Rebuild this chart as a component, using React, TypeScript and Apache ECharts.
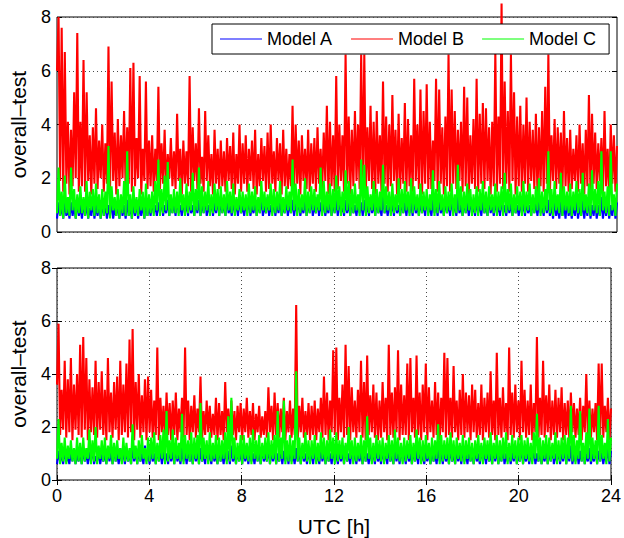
import React, { useEffect, useRef } from "react";
import * as echarts from "echarts";

// Values are stored in tenths, one sample every 4 minutes from 0 to 24 h UTC
// (each row holds one hour = 15 samples).

const upperModelA = [
  5,11,6,10,5,12,6,9,5,11,6,10,5,12,6,
  10,5,12,6,11,5,9,6,12,5,10,6,11,5,12,
  6,11,5,10,6,12,5,9,6,11,5,12,6,10,5,
  12,6,10,5,11,6,12,5,10,6,11,5,12,6,10,
  6,12,7,10,6,11,7,13,6,10,7,12,6,11,7,
  11,6,13,7,10,6,12,7,11,6,13,7,10,6,12,
  7,12,6,11,7,13,6,10,7,12,6,11,7,13,6,
  12,7,11,6,13,7,10,6,12,7,11,6,13,7,10,
  6,11,7,13,6,10,7,12,6,11,7,13,6,10,7,
  13,6,10,7,12,6,11,7,13,6,10,7,12,6,11,
  7,12,6,11,7,13,6,10,7,12,6,11,7,13,6,
  10,7,13,6,11,7,12,6,10,7,13,6,11,7,12,
  6,13,7,10,6,12,7,11,6,13,7,10,6,12,7,
  11,6,12,7,10,6,13,7,11,6,12,7,10,6,13,
  7,10,6,12,7,11,6,13,7,10,6,12,7,11,6,
  12,7,11,6,13,7,10,6,12,7,11,6,13,7,10,
  6,12,7,11,6,13,7,10,6,12,7,11,6,13,7,
  11,6,13,7,10,6,12,7,11,6,13,7,10,6,12,
  7,11,6,12,7,10,6,13,7,11,6,12,7,10,6,
  13,7,10,6,12,7,11,6,13,7,10,6,12,7,11,
  6,12,7,10,6,13,7,11,6,12,7,10,6,13,7,
  12,6,11,5,13,6,10,5,12,6,11,5,13,6,10,
  5,11,6,13,5,10,6,12,5,11,6,13,5,10,6,
  12,5,10,6,13,5,11,6,12,5,10,6,13,5,11,
];

const upperModelB = [
  60,80,19,76,15,67,18,41,14,38,17,52,20,74,15,
  41,17,64,15,52,19,36,14,39,18,46,16,34,20,40,
  15,33,18,69,16,56,19,37,14,42,17,36,20,45,16,
  39,18,61,15,63,17,35,20,58,14,31,19,56,16,34,
  17,36,15,31,19,54,16,33,18,38,15,29,20,35,17,
  30,16,44,19,31,14,34,18,30,17,58,15,39,19,33,
  16,46,18,28,15,45,19,36,17,29,14,38,18,31,16,
  34,17,30,15,35,19,32,16,37,14,29,18,40,15,33,
  18,36,15,31,19,34,16,38,14,29,17,35,19,32,15,
  37,16,40,18,30,15,35,19,33,14,38,17,31,16,29,
  17,47,15,40,18,34,14,36,19,31,16,38,15,33,18,
  35,15,39,18,31,16,37,19,47,14,41,17,36,15,58,
  16,40,19,36,15,66,18,43,14,38,17,45,19,40,16,
  66,17,66,15,39,19,47,16,41,14,45,18,36,15,56,
  18,43,15,40,17,51,19,38,14,44,16,35,18,48,15,
  42,17,36,15,57,19,40,16,53,14,45,18,55,16,41,
  16,34,19,57,15,53,18,39,14,43,17,66,15,53,18,
  45,16,38,19,41,15,54,17,50,14,36,18,42,16,57,
  15,44,18,48,16,46,19,39,14,41,17,67,15,43,18,
  85,16,56,18,45,15,66,19,52,14,43,17,47,15,40,
  18,50,15,41,19,38,16,44,14,39,17,45,15,54,18,
  66,15,36,19,42,16,39,18,37,14,45,17,35,15,38,
  16,31,19,36,15,40,18,33,14,38,17,51,15,44,18,
  37,16,33,19,35,15,45,17,31,14,40,18,36,15,32,
];

const upperModelC = [
  7,24,6,15,5,21,7,13,6,24,8,16,5,14,7,
  17,7,13,6,19,5,15,8,16,6,18,7,14,5,16,
  6,15,7,32,5,17,8,13,6,16,5,14,7,19,6,
  30,6,14,5,17,7,13,6,16,8,15,5,18,6,14,
  7,15,6,19,8,27,6,16,7,21,8,26,6,14,7,
  16,7,15,6,20,8,14,6,18,7,15,8,22,6,16,
  8,24,6,17,7,15,8,19,6,14,7,18,8,16,6,
  17,7,14,6,19,8,15,7,18,6,13,8,16,7,15,
  8,14,6,18,7,15,8,17,6,13,7,19,8,15,7,
  14,8,18,6,16,7,15,8,19,6,13,7,17,8,15,
  7,27,8,18,6,16,7,14,8,20,6,15,7,17,8,
  16,7,14,8,24,6,19,7,15,8,18,6,16,7,21,
  8,17,6,15,7,23,8,19,6,16,7,18,8,14,6,
  27,8,25,6,17,7,14,8,19,6,16,7,15,8,25,
  7,17,8,15,6,18,7,14,8,20,6,16,7,19,8,
  15,6,20,7,17,8,14,6,18,7,15,8,16,6,14,
  8,23,6,16,7,19,8,14,6,17,7,15,8,18,6,
  14,7,25,8,17,6,15,7,18,8,16,6,14,7,17,
  6,16,8,19,7,15,6,17,8,14,7,18,6,15,8,
  17,6,22,7,16,8,18,6,14,7,17,8,15,6,19,
  7,15,8,18,6,14,7,17,8,20,6,15,7,16,8,
  30,7,16,6,19,8,14,7,22,6,17,8,15,7,18,
  6,15,8,19,7,16,6,22,8,14,7,18,6,23,8,
  16,7,19,6,30,8,15,7,17,6,30,8,14,6,18,
];

const lowerModelA = [
  6,11,7,10,6,12,7,9,6,11,7,12,6,10,7,
  11,6,12,7,10,6,11,7,13,6,9,7,11,6,10,
  7,10,6,12,7,11,6,13,7,10,6,12,7,11,6,
  12,7,10,6,13,7,11,6,12,7,10,6,13,7,11,
  6,12,7,10,6,13,7,11,6,12,7,10,6,13,7,
  11,6,13,7,10,6,12,7,11,6,13,7,10,6,12,
  7,11,6,12,7,10,6,13,7,11,6,12,7,10,6,
  13,7,10,6,12,7,11,6,13,7,10,6,12,7,11,
  6,12,7,11,6,13,7,10,6,12,7,11,6,13,7,
  10,7,13,6,11,7,12,6,10,7,13,6,11,7,12,
  6,13,7,10,6,12,7,11,6,13,7,10,6,12,7,
  11,6,12,7,10,6,13,7,11,6,12,7,10,6,13,
  7,10,6,12,7,11,6,13,7,10,6,12,7,11,6,
  12,7,11,6,13,7,10,6,12,7,11,6,13,7,10,
  6,12,7,11,6,13,7,10,6,12,7,11,6,13,7,
  11,6,13,7,10,6,12,7,11,6,13,7,10,6,12,
  7,11,6,12,7,10,6,13,7,11,6,12,7,10,6,
  13,7,10,6,12,7,11,6,13,7,10,6,12,7,11,
  6,12,7,10,6,13,7,11,6,12,7,10,6,13,7,
  12,6,11,7,13,6,10,7,12,6,11,7,13,6,10,
  7,13,6,10,7,12,6,11,7,13,6,10,7,12,6,
  10,7,12,6,11,7,13,6,10,7,12,6,11,7,13,
  6,11,7,13,6,10,7,12,6,11,7,13,6,10,7,
  12,6,10,7,13,6,11,7,12,6,10,7,13,6,11,
];

const lowerModelB = [
  36,59,17,34,19,45,16,38,18,46,15,36,19,40,17,
  51,16,54,19,46,15,38,18,35,17,45,16,37,19,41,
  17,34,15,46,18,33,16,37,19,39,15,45,17,36,18,
  44,16,53,18,57,15,37,19,40,16,32,18,38,15,39,
  18,34,16,30,17,50,15,31,18,28,16,33,17,29,15,
  30,17,33,15,27,18,31,16,50,17,30,15,28,18,32,
  16,27,18,39,15,26,17,30,18,28,16,25,17,31,15,
  29,17,26,15,37,18,27,16,30,17,26,15,28,18,29,
  15,27,18,31,16,26,17,29,15,25,18,28,16,24,17,
  26,16,35,18,28,15,33,17,29,16,27,18,31,15,26,
  18,30,16,27,17,66,15,28,18,31,16,26,17,29,15,
  28,17,30,15,27,18,31,16,39,17,33,15,30,18,49,
  17,50,15,31,18,36,16,51,17,43,15,35,18,30,16,
  34,18,45,16,37,15,47,17,32,18,36,16,33,15,30,
  16,37,18,31,15,51,17,33,16,35,18,49,15,36,17,
  32,17,44,15,46,18,31,16,47,17,33,15,36,18,44,
  15,35,18,30,16,37,17,33,15,31,18,48,16,46,17,
  31,16,43,18,30,15,34,17,40,16,33,18,32,15,36,
  18,34,16,29,17,36,15,31,18,33,16,41,17,30,15,
  48,17,31,16,35,18,29,15,50,17,33,16,36,18,30,
  15,45,18,34,16,30,17,36,15,29,18,54,16,31,17,
  45,16,32,18,36,15,30,17,34,16,31,18,35,15,29,
  17,30,15,33,18,29,16,27,17,31,15,28,18,40,16,
  30,16,27,18,29,15,44,17,44,16,28,18,31,15,27,
];

const lowerModelC = [
  8,23,6,14,7,16,6,13,8,15,7,12,6,16,7,
  14,6,16,7,12,8,19,6,15,7,20,6,13,8,15,
  7,16,6,13,8,17,6,14,7,15,8,12,6,16,7,
  14,7,12,6,21,8,13,6,15,7,17,8,12,6,16,
  7,16,8,18,6,14,7,17,8,19,6,26,7,15,8,
  19,6,16,8,14,7,25,6,17,8,15,7,18,6,16,
  8,17,6,29,7,16,8,15,6,18,7,14,8,17,6,
  16,7,15,8,18,6,24,7,31,8,16,6,14,7,17,
  6,17,8,14,7,16,6,19,8,15,7,17,6,14,8,
  16,7,18,6,15,8,17,6,26,7,16,8,30,6,15,
  7,17,6,15,8,41,7,16,6,14,8,18,7,15,6,
  15,8,17,6,14,7,18,8,16,6,15,7,19,8,16,
  6,18,7,15,8,16,6,14,7,20,8,15,6,16,7,
  14,8,17,6,15,7,24,8,16,6,14,7,17,8,15,
  7,16,6,14,8,17,7,15,6,19,8,16,7,14,6,
  16,7,15,8,17,6,14,7,19,8,16,6,15,7,17,
  8,14,6,16,7,15,8,21,6,17,7,15,8,16,6,
  18,7,15,6,16,8,14,7,17,6,15,8,16,7,14,
  6,15,8,17,7,14,6,16,8,15,7,18,6,14,8,
  17,6,15,7,16,8,18,6,14,7,17,8,15,6,16,
  7,17,6,15,8,16,7,14,6,18,8,25,7,16,6,
  15,8,17,6,16,7,14,8,18,6,15,7,16,8,17,
  6,16,8,28,7,17,6,15,8,26,7,14,6,18,8,
  27,7,16,8,15,6,28,7,17,8,14,6,23,7,16,
];

const modelNames = ["Model A", "Model B", "Model C"];
const modelColors = ["#0000ff", "#ff0000", "#00ff00"];

const FONT = "'Liberation Sans', Arial, Helvetica, sans-serif";
const GRID_DOTS = { color: "#4a4a4a", type: [1, 3] as number[], width: 1 };

// Spread the samples evenly across the 24 h day and convert tenths to units.
function toPoints(tenths: number[]): number[][] {
  const step = 24 / (tenths.length - 1);
  return tenths.map((v, i) => [i * step, v / 10]);
}

function buildOption(): echarts.EChartsCoreOption {
  const panels = [
    [upperModelA, upperModelB, upperModelC],
    [lowerModelA, lowerModelB, lowerModelC],
  ];

  const series: any[] = [];
  panels.forEach((panel, p) => {
    panel.forEach((values, m) => {
      series.push({
        type: "line",
        name: modelNames[m],
        xAxisIndex: p === 0 ? 0 : 1,
        yAxisIndex: p === 0 ? 0 : 2,
        data: toPoints(values),
        symbol: "none",
        showSymbol: false,
        silent: true,
        clip: !(p === 0 && m === 1),
        lineStyle: { color: modelColors[m], width: 2.1 },
        itemStyle: { color: modelColors[m] },
        emphasis: { disabled: true },
      });
    });
  });

  const yLeft = (gridIndex: number) => ({
    type: "value",
    gridIndex,
    min: 0,
    max: 8,
    interval: 2,
    name: "overall\u2013test",
    nameLocation: "middle",
    nameGap: 28,
    nameRotate: 90,
    nameTextStyle: { fontSize: 21, color: "#000", fontFamily: FONT },
    axisLine: { show: false },
    axisTick: { show: true, inside: true, length: 5, lineStyle: { color: "#000" } },
    axisLabel: { fontSize: 18, color: "#000", margin: 6, fontFamily: FONT },
    splitLine: { show: true, lineStyle: GRID_DOTS },
  });

  const yRight = (gridIndex: number) => ({
    type: "value",
    gridIndex,
    position: "right",
    min: 0,
    max: 8,
    interval: 2,
    axisLine: { show: false },
    axisTick: { show: true, inside: true, length: 5, lineStyle: { color: "#000" } },
    axisLabel: { show: false },
    splitLine: { show: false },
  });

  return {
    animation: false,
    backgroundColor: "#fff",
    textStyle: { fontFamily: FONT },
    grid: [
      { left: 54, top: 17, width: 563, height: 215, show: true, borderColor: "#000", borderWidth: 1, backgroundColor: "#fff" },
      { left: 54, top: 268, width: 563, height: 215, show: true, borderColor: "#000", borderWidth: 1, backgroundColor: "#fff" },
    ],
    legend: {
      data: modelNames,
      left: 212,
      top: 24,
      orient: "horizontal",
      icon: "rect",
      itemWidth: 42,
      itemHeight: 1,
      itemGap: 18,
      padding: [6, 13, 6, 8],
      borderColor: "#000",
      borderWidth: 1,
      borderRadius: 0,
      backgroundColor: "#fff",
      selectedMode: false,
      textStyle: { fontSize: 18, lineHeight: 18, color: "#000", fontFamily: FONT },
    },
    xAxis: [
      {
        type: "value",
        gridIndex: 0,
        min: 0,
        max: 24,
        interval: 4,
        axisLine: { show: false },
        axisTick: { show: false },
        axisLabel: { show: false },
        splitLine: { show: false },
      },
      {
        type: "value",
        gridIndex: 1,
        min: 0,
        max: 24,
        interval: 4,
        position: "bottom",
        name: "UTC [h]",
        nameLocation: "middle",
        nameGap: 36,
        nameTextStyle: { fontSize: 21, color: "#000", fontFamily: FONT },
        axisLine: { show: false },
        axisTick: { show: true, inside: true, length: 5, lineStyle: { color: "#000" } },
        axisLabel: { fontSize: 18, color: "#000", margin: 7, fontFamily: FONT },
        splitLine: { show: true, lineStyle: GRID_DOTS },
      },
      {
        type: "value",
        gridIndex: 1,
        min: 0,
        max: 24,
        interval: 4,
        position: "top",
        axisLine: { show: false },
        axisTick: { show: true, inside: true, length: 5, lineStyle: { color: "#000" } },
        axisLabel: { show: false },
        splitLine: { show: false },
      },
    ],
    yAxis: [yLeft(0), yRight(0), yLeft(1), yRight(1)],
    series,
  };
}

export default function App() {
  const ref = useRef<HTMLDivElement | null>(null);

  useEffect(() => {
    if (!ref.current) return;
    const chart = echarts.init(ref.current, undefined, { renderer: "svg" });
    chart.setOption(buildOption());
    return () => chart.dispose();
  }, []);

  return (
    <div
      ref={ref}
      style={{ position: "absolute", left: 0, top: 0, width: 624, height: 538, background: "#fff" }}
    />
  );
}
